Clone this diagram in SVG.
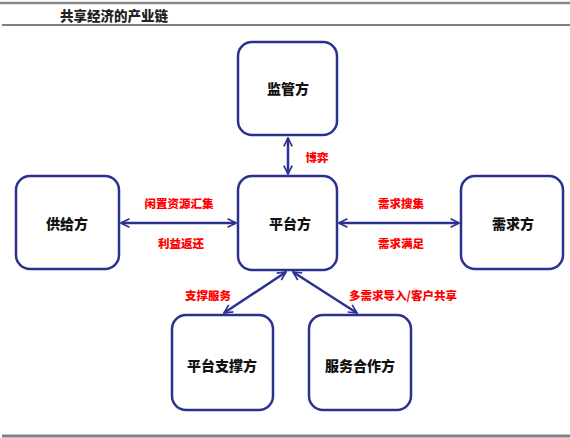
<svg xmlns="http://www.w3.org/2000/svg" width="570" height="438" viewBox="0 0 570 438">
<style>
.box{fill:#fff;stroke:#2b3190;stroke-width:2.5}
.nl{font-family:"Noto Sans CJK SC","Noto Sans",sans-serif;font-weight:900;font-size:14px;fill:#111;text-anchor:middle;dominant-baseline:central}
.el{font-family:"Noto Sans CJK SC","Noto Sans",sans-serif;font-weight:900;font-size:11.5px;fill:#ff0000;text-anchor:middle;dominant-baseline:central}
.cn{stroke:#2b3190;stroke-width:2.5;fill:none;marker-start:url(#ah);marker-end:url(#ah)}
</style>
<defs>
<marker id="ah" viewBox="0 0 10 10" refX="9" refY="5" markerWidth="4.2" markerHeight="4.2" orient="auto-start-reverse" markerUnits="strokeWidth">
<path d="M1,1 L9,5 L1,9" fill="none" stroke="#2b3190" stroke-width="1.6"/>
</marker>
</defs>
<rect width="570" height="438" fill="#fff"/>
<line x1="0" y1="3" x2="570" y2="3" stroke="#8a8a8a" stroke-width="2.5"/>
<line x1="2" y1="25" x2="570" y2="25" stroke="#555" stroke-width="1.5"/>
<line x1="2" y1="436" x2="570" y2="436" stroke="#808080" stroke-width="3"/>
<text x="60" y="15" font-family="'Noto Sans CJK SC',sans-serif" font-weight="900" font-size="13.5" fill="#222" dominant-baseline="central">共享经济的产业链</text>
<g id="connectors">
<line class="cn" x1="288" y1="138" x2="288" y2="174"/>
<line class="cn" x1="121" y1="223" x2="236" y2="223"/>
<line class="cn" x1="339" y1="223" x2="459" y2="223"/>
<line class="cn" x1="286" y1="272" x2="224" y2="313"/>
<line class="cn" x1="293" y1="272" x2="357" y2="313"/>
<text class="el" x="317" y="157">博弈</text>
<text class="el" x="179" y="203">闲置资源汇集</text>
<text class="el" x="181" y="243">利益返还</text>
<text class="el" x="401" y="203">需求搜集</text>
<text class="el" x="401" y="243">需求满足</text>
<text class="el" x="208" y="295">支撑服务</text>
<text class="el" x="403" y="295">多需求导入/客户共享</text>
</g>
<g id="n-regulator"><rect class="box" x="238" y="42" width="99" height="93" rx="14"/><text class="nl" x="288" y="88">监管方</text></g>
<g id="n-platform"><rect class="box" x="238" y="176" width="99" height="94" rx="14"/><text class="nl" x="290" y="223">平台方</text></g>
<g id="n-supply"><rect class="box" x="16" y="176" width="103" height="93" rx="14"/><text class="nl" x="67" y="223">供给方</text></g>
<g id="n-demand"><rect class="box" x="461" y="176" width="102" height="93" rx="14"/><text class="nl" x="513" y="223">需求方</text></g>
<g id="n-support"><rect class="box" x="172" y="315" width="101" height="95" rx="14"/><text class="nl" x="222" y="365">平台支撑方</text></g>
<g id="n-partner"><rect class="box" x="309" y="315" width="102" height="95" rx="14"/><text class="nl" x="360" y="365">服务合作方</text></g>
</svg>
